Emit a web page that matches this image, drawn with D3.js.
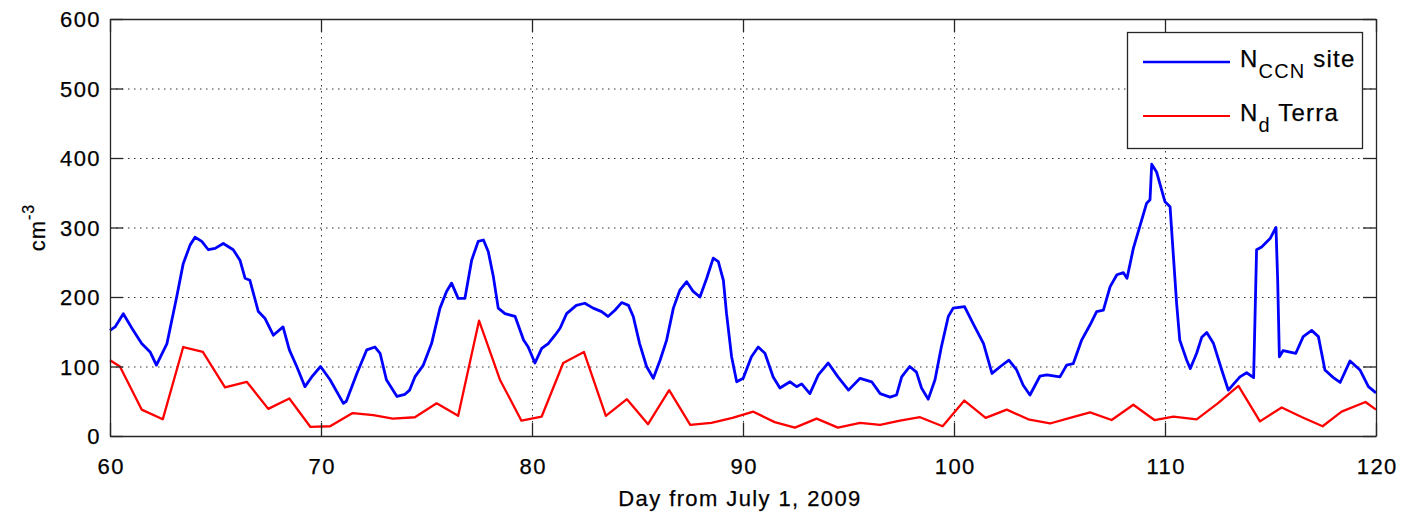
<!DOCTYPE html>
<html>
<head>
<meta charset="utf-8">
<script src="https://cdn.jsdelivr.net/npm/d3@7"></script>
<style>
  body { margin: 0; background: #fff; }
  svg { display: block; font-family: "Liberation Sans", Arial, sans-serif; }
  text { fill: #000; stroke: #000; stroke-width: 0.25px; }
</style>
</head>
<body>
<svg id="chart" width="1401" height="515"></svg>
<script>
// ---- data ----
const ccnDays = [60,60.24,60.63,61.1,61.5,61.9,62.2,62.7,63.16,63.47,63.8,64.03,64.35,64.66,64.98,65.37,65.84,66.16,66.4,66.63,67.03,67.35,67.74,68.2,68.5,68.85,69.24,69.56,69.98,70.43,71.06,71.2,71.7,72.17,72.56,72.8,73.1,73.6,73.98,74.2,74.45,74.85,75.24,75.64,75.95,76.19,76.5,76.82,77.14,77.45,77.7,77.93,78.17,78.4,78.72,79.2,79.6,79.82,80.14,80.46,80.77,81.09,81.33,81.64,82.1,82.5,82.9,83.3,83.6,83.93,84.25,84.57,84.8,85.1,85.43,85.75,86.07,86.38,86.7,87.01,87.33,87.64,87.96,88.28,88.59,88.83,89.07,89.22,89.46,89.7,90.01,90.4,90.72,91.04,91.43,91.75,92.23,92.54,92.78,93.17,93.57,94.04,94.5,95,95.55,96.1,96.5,96.97,97.28,97.52,97.9,98.22,98.46,98.78,99.1,99.4,99.73,99.96,100.5,100.9,101.4,101.8,102.2,102.6,102.97,103.28,103.6,104.07,104.4,105.02,105.34,105.65,106.05,106.45,106.76,107.08,107.4,107.72,108.03,108.2,108.5,108.8,109.13,109.29,109.37,109.6,110,110.24,110.4,110.55,110.7,111.03,111.2,111.5,111.74,111.98,112.3,112.69,113,113.55,113.87,114.2,114.34,114.58,114.98,115.26,115.34,115.42,115.6,116.2,116.55,116.95,117.27,117.58,117.98,118.3,118.77,119.24,119.64,120];
const ccnValues = [152,157,176,152,133,121,102,133,200,248,275,286,280,268,270,277,268,253,227,224,179,169,145,157,124,100,71,85,100,81,47,50,90,124,128,119,81,57,60,66,85,102,133,184,208,220,198,198,253,280,282,265,229,184,176,172,138,128,105,126,133,145,155,176,188,191,184,179,172,181,192,188,172,133,100,83,109,138,184,210,222,208,200,227,256,251,224,176,114,78,83,114,128,119,85,69,78,71,75,61,88,105,85,66,83,78,61,56,59,85,100,92,69,53,81,128,172,184,186,162,133,90,100,109,95,73,59,86,88,85,102,104,138,160,179,181,215,232,235,227,270,301,335,340,391,380,337,330,258,191,138,109,97,119,142,149,133,95,66,85,91,84,268,272,284,300,224,114,123,119,143,152,143,95,84,77,108,95,71,62];

const terraDays = [60,60.47,61.5,62.5,63.47,64.4,65.45,66.48,67.5,68.5,69.5,70.43,71.5,72.48,73.4,74.45,75.48,76.5,77.49,78.48,79.5,80.46,81.48,82.46,83.5,84.5,85.5,86.5,87.5,88.5,89.5,90.49,91.5,92.46,93.49,94.5,95.55,96.5,97.44,98.39,99.46,100.49,101.5,102.5,103.52,104.55,105.5,106.45,107.47,108.5,109.5,110.4,111.5,112.5,113.48,114.5,115.53,116.5,117.47,118.37,119.5,120];
const terraValues = [109,100,38,24,128,121,70,78,39,54,13,14,33,30,25,27,47,29,166,81,22,28,105,121,29,53,17,66,16,19,26,35,20,12,25,12,19,16,22,27,14,51,26,38,24,18,26,34,23,45,23,28,24,47,72,21,41,27,14,35,49,38];

const xTicks = [60,70,80,90,100,110,120];
const yTicks = [0,100,200,300,400,500,600];

// ---- layout ----
const L = 110, R = 1376, T = 19, B = 436;
const svg = d3.select("#chart");
const x = d3.scaleLinear().domain([60,120]).range([L,R]);
const y = d3.scaleLinear().domain([0,600]).range([B,T]);
const axisColor = "#262626";
const fs = 22, ls = 1.4;

// grid
const grid = svg.append("g");
grid.selectAll("line.gx").data(xTicks.slice(1,-1)).join("line")
  .attr("x1", d=>x(d)+0.5).attr("x2", d=>x(d)+0.5).attr("y1", T).attr("y2", B)
  .attr("stroke", "#333").attr("stroke-width", 1).attr("stroke-dasharray", "1.5,4.5");
grid.selectAll("line.gy").data(yTicks.slice(1,-1)).join("line")
  .attr("y1", d=>y(d)+0.5).attr("y2", d=>y(d)+0.5).attr("x1", L).attr("x2", R)
  .attr("stroke", "#333").attr("stroke-width", 1).attr("stroke-dasharray", "1.5,4.5");

// lines
const line = d3.line().x(d=>x(d[0])).y(d=>y(d[1]));
svg.append("path").datum(ccnDays.map((d,i)=>[d, ccnValues[i]]))
  .attr("d", line).attr("fill","none").attr("stroke","#0000ff").attr("stroke-width",2.8)
  .attr("stroke-linejoin","round");
svg.append("path").datum(terraDays.map((d,i)=>[d, terraValues[i]]))
  .attr("d", line).attr("fill","none").attr("stroke","#ff0000").attr("stroke-width",2.3)
  .attr("stroke-linejoin","round");

// axes (ticks inward on all sides)
const tl = 13;
const gBottom = svg.append("g").attr("transform", `translate(0,${B})`)
  .call(d3.axisBottom(x).tickValues(xTicks).tickSizeInner(-tl).tickSizeOuter(0));
const gLeft = svg.append("g").attr("transform", `translate(${L},0)`)
  .call(d3.axisLeft(y).tickValues(yTicks).tickSizeInner(-tl).tickSizeOuter(0));
const gTop = svg.append("g").attr("transform", `translate(0,${T})`)
  .call(d3.axisTop(x).tickValues(xTicks).tickSizeInner(-tl).tickSizeOuter(0).tickFormat(""));
const gRight = svg.append("g").attr("transform", `translate(${R},0)`)
  .call(d3.axisRight(y).tickValues(yTicks).tickSizeInner(-tl).tickSizeOuter(0).tickFormat(""));
[gBottom,gLeft,gTop,gRight].forEach(g => {
  g.selectAll("path.domain").attr("stroke", axisColor).attr("stroke-width", 1.3);
  g.selectAll(".tick line").attr("stroke", axisColor).attr("stroke-width", 1.3);
  g.selectAll("text").attr("fill","#000").style("font-size", fs+"px")
    .style("letter-spacing", ls+"px").style("font-family","'Liberation Sans', Arial, sans-serif");
});
gBottom.selectAll(".tick text").attr("y", 22).attr("dy", "0.71em").attr("dx", ls/2);
gLeft.selectAll(".tick text").attr("x", -9).attr("dy", "0.35em");

// axis labels
svg.append("text").attr("x", 740).attr("y", 506).attr("text-anchor","middle")
  .style("font-size", fs+"px").style("letter-spacing", ls+"px").text("Day from July 1, 2009");
const yl = svg.append("text").attr("transform", `translate(45,${(T+B)/2}) rotate(-90)`)
  .attr("text-anchor","middle").style("font-size", fs+"px").style("letter-spacing", "1px");
yl.append("tspan").text("cm");
yl.append("tspan").attr("dy", -11).style("font-size","16px").text("-3");

// legend
const lg = svg.append("g");
lg.append("rect").attr("x", 1127.5).attr("y", 32.5).attr("width", 235).attr("height", 116)
  .attr("fill","#fff").attr("stroke", axisColor).attr("stroke-width", 1.3);
lg.append("line").attr("x1",1143).attr("x2",1230).attr("y1",62).attr("y2",62)
  .attr("stroke","#0000ff").attr("stroke-width",2.6);
lg.append("line").attr("x1",1143).attr("x2",1230).attr("y1",116).attr("y2",116)
  .attr("stroke","#ff0000").attr("stroke-width",2.2);
const t1 = lg.append("text").attr("x",1240).attr("y",67).style("font-size","24px").style("letter-spacing","1.2px");
t1.append("tspan").text("N");
t1.append("tspan").attr("dy", 11).style("font-size","20px").style("stroke-width","0").text("CCN");
t1.append("tspan").attr("dy", -11).text(" site");
const t2 = lg.append("text").attr("x",1240).attr("y",121).style("font-size","24px").style("letter-spacing","1.2px");
t2.append("tspan").text("N");
t2.append("tspan").attr("dy", 11).style("font-size","20px").style("stroke-width","0").text("d");
t2.append("tspan").attr("dy", -11).text(" Terra");
</script>
</body>
</html>
